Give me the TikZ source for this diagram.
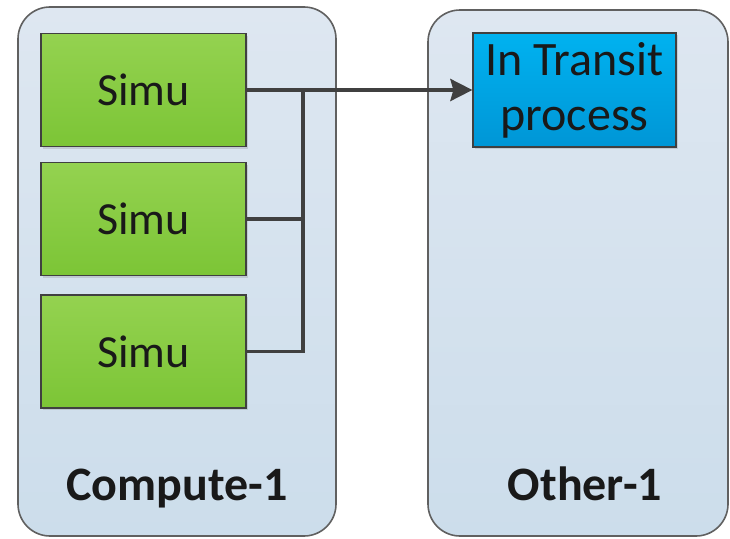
\documentclass[tikz,border=0pt]{standalone}
\usepackage{fontspec}
\setmainfont{Carlito}
\usetikzlibrary{arrows.meta,shadows}
\definecolor{hostTop}{HTML}{DEE7F1}
\definecolor{hostBot}{HTML}{CCDDEB}
\definecolor{hostEdge}{HTML}{606060}
\definecolor{simuTop}{HTML}{94D250}
\definecolor{simuBot}{HTML}{7CC536}
\definecolor{procTop}{HTML}{00B2F0}
\definecolor{procBot}{HTML}{0096D6}
\definecolor{boxEdge}{HTML}{404040}
\definecolor{wire}{HTML}{404040}
\tikzset{
  host/.style={draw=hostEdge, line width=1.6pt, rounded corners=32pt,
    top color=hostTop, bottom color=hostBot, inner sep=0pt},
  hostlabel/.style={font=\fontsize{48}{56}\selectfont\bfseries, text=black!90, anchor=base},
  simubox/.style={draw=boxEdge, line width=1.2pt, top color=simuTop, bottom color=simuBot,
    minimum width=205pt, minimum height=113pt, inner sep=0pt,
    font=\fontsize{46}{54}\selectfont, text=black!90,
    drop shadow={shadow xshift=2pt, shadow yshift=-2pt, opacity=0.25}},
  procbox/.style={draw=boxEdge, line width=1.2pt, top color=procTop, bottom color=procBot,
    minimum width=203pt, minimum height=114pt, inner sep=0pt, align=center,
    font=\fontsize{48}{55}\selectfont, text=black!90,
    drop shadow={shadow xshift=2pt, shadow yshift=-2pt, opacity=0.25}},
  wireline/.style={draw=wire, line width=3.6pt},
  wirearrow/.style={wireline, -{Stealth[length=22pt,width=22pt,inset=3pt]}}
}
\begin{document}
\begin{tikzpicture}[x=1pt,y=-1pt]
\useasboundingbox (0,0) rectangle (730,538);

% hosts
\node[host, minimum width=318pt, minimum height=529pt] (compute) at (177,271.5) {};
\node[host, minimum width=300pt, minimum height=526pt] (other) at (578,273) {};
\node[hostlabel] (computelabel) at (177,500) {Compute-1};
\node[hostlabel] (otherlabel) at (585,500) {Other-1};

% simulation ranks
\node[simubox] (s1) at (143.5,90) {Simu};
\node[simubox] (s2) at (143.5,219) {Simu};
\node[simubox] (s3) at (143.5,351.5) {Simu};

% in-transit analysis process
\node[procbox] (tr) at (574.5,90) {In Transit\\process};

% data movement
\coordinate (j) at (303,90);
\draw[wireline] (s2.east) -| (j);
\draw[wireline] (s3.east) -| (j);
\draw[wirearrow] (s1.east) -- (tr.west);
\end{tikzpicture}
\end{document}
